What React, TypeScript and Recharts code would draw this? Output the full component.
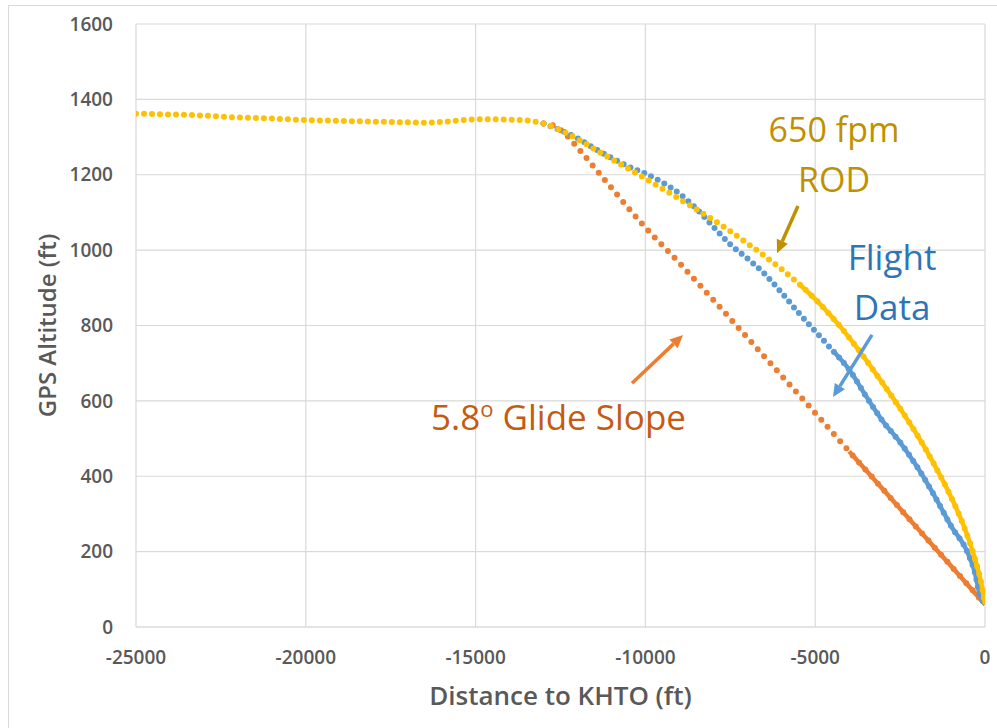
import { LineChart, Line, XAxis, YAxis, CartesianGrid, ReferenceLine, ReferenceDot, Label } from 'recharts';

// 650 fpm rate-of-descent profile
const rodDist = [-25000, -24000, -23000, -22000, -21000, -20000, -19000, -18000, -17000, -16500, -16000, -15500, -15000, -14500, -14000, -13500, -13000, -12500, -12000, -11500, -11000, -10500, -10000, -9500, -9000, -8500, -8000, -7500, -7000, -6500, -6000, -5500, -5000, -4500, -4000, -3500, -3000, -2500, -2000, -1500, -1000, -600, -300, -100, 0];
const rodAlt = [1362, 1360, 1357, 1352, 1349, 1345, 1343, 1341, 1339, 1338, 1340, 1344, 1347, 1347, 1346, 1344, 1336, 1318, 1295, 1268, 1242, 1216, 1190, 1163, 1136, 1108, 1080, 1050, 1018, 985, 950, 912, 870, 822, 768, 708, 645, 580, 510, 432, 345, 262, 182, 112, 60];

// recorded flight data
const flightDist = [-13000, -12500, -12000, -11500, -11000, -10500, -10000, -9500, -9000, -8500, -8000, -7500, -7000, -6500, -6000, -5500, -5000, -4500, -4000, -3500, -3000, -2500, -2000, -1500, -1000, -500, -300, -150, 0];
const flightAlt = [1336, 1318, 1297, 1270, 1245, 1222, 1203, 1180, 1150, 1110, 1062, 1015, 978, 938, 888, 835, 785, 735, 683, 612, 545, 490, 425, 350, 268, 195, 145, 85, 60];

// 5.8 deg glide slope
const slopeDist = [-13000, -12700, -12400, -12000, -11000, -10000, -9000, -8000, -7000, -6000, -5000, -4000, -3000, -2000, -1000, 0];
const slopeAlt = [1336, 1330, 1312, 1272, 1165, 1060, 966, 868, 768, 668, 568, 466, 365, 263, 162, 60];

const xTicks = [-25000, -20000, -15000, -10000, -5000, 0];
const yTicks = [0, 200, 400, 600, 800, 1000, 1200, 1400, 1600];

const zip = (xs: number[], ys: number[]) => xs.map((x, i) => ({ x, alt: ys[i] }));
const rodData = zip(rodDist, rodAlt);
const flightData = zip(flightDist, flightAlt);
const slopeData = zip(slopeDist, slopeAlt);

const YELLOW = '#FFC000';
const BLUE = '#5B9BD5';
const ORANGE = '#ED7D31';
const GRID = '#d9d9d9';
const TEXT = '#595959';
const FONT = '"Open Sans", "Noto Sans", sans-serif';

const tickStyle = { fill: TEXT, fontSize: 19, fontWeight: 600, fontFamily: FONT };

const Arrow = (p: any) => {
  const { x1, y1, x2, y2, color } = p;
  const ang = Math.atan2(y2 - y1, x2 - x1);
  const len = 13;
  const half = 6;
  const bx = x2 - len * Math.cos(ang);
  const by = y2 - len * Math.sin(ang);
  const nx = -Math.sin(ang) * half;
  const ny = Math.cos(ang) * half;
  return (
    <g>
      <line x1={x1} y1={y1} x2={bx} y2={by} stroke={color} strokeWidth={3.5} />
      <polygon points={`${x2},${y2} ${bx + nx},${by + ny} ${bx - nx},${by - ny}`} fill={color} />
    </g>
  );
};

const noteText = (lines: any, color: string, size: number) => (p: any) => (
  <text x={p.cx} y={p.cy} textAnchor="middle" fill={color} fontSize={size} fontFamily={FONT}>
    {lines}
  </text>
);

const dotted = (data: any[], color: string, gap: number) => (
  <Line
    data={data}
    dataKey="alt"
    type="monotone"
    stroke={color}
    strokeWidth={6}
    strokeLinecap="round"
    strokeDasharray={`0 ${gap}`}
    dot={false}
    activeDot={false}
    isAnimationActive={false}
  />
);

const solid = (data: any[], color: string) => (
  <Line
    data={data}
    dataKey="alt"
    type="monotone"
    stroke={color}
    strokeWidth={4.5}
    dot={false}
    activeDot={false}
    isAnimationActive={false}
  />
);

export default function App() {
  return (
    <div style={{ position: 'absolute', left: 0, top: 0, width: 997, height: 728, overflow: 'hidden', background: '#fff' }}>
      <div style={{ position: 'absolute', left: 8, top: 5, width: 1100, height: 800, borderLeft: `1px solid ${GRID}`, borderTop: `1px solid ${GRID}` }} />
      <div style={{ position: 'absolute', left: 0, top: 0 }}>
        <LineChart width={997} height={728} margin={{ top: 24, right: 12, bottom: 11, left: 36 }}>
          <CartesianGrid stroke={GRID} strokeWidth={1.2} />
          <XAxis
            type="number"
            dataKey="x"
            domain={[-25000, 0]}
            ticks={xTicks}
            interval={0}
            allowDataOverflow
            tickLine={false}
            axisLine={{ stroke: GRID, strokeWidth: 1.2 }}
            tick={tickStyle}
            tickMargin={18}
            height={90}
          >
            <Label value="Distance to KHTO (ft)" position="insideBottom" offset={12} fill={TEXT} fontSize={26} fontWeight={600} fontFamily={FONT} />
          </XAxis>
          <YAxis
            type="number"
            domain={[0, 1600]}
            ticks={yTicks}
            interval={0}
            tickLine={false}
            axisLine={false}
            tick={tickStyle}
            tickMargin={17}
            width={100}
          >
            <Label
              content={(p: any) => {
                const vb = p.viewBox;
                const cx = vb.x + 10;
                const cy = vb.y + vb.height / 2;
                return (
                  <text x={cx} y={cy} transform={`rotate(-90, ${cx}, ${cy})`} textAnchor="middle" dominantBaseline="central" fill={TEXT} fontSize={24} fontWeight={600} fontFamily={FONT}>
                    GPS Altitude (ft)
                  </text>
                );
              }}
            />
          </YAxis>

          {solid(slopeData.filter((d) => d.x >= -4800), ORANGE)}
          {dotted(slopeData, ORANGE, 9.5)}
          {solid(flightData.filter((d) => d.x >= -4500), BLUE)}
          {dotted(flightData, BLUE, 7.5)}
          {solid(rodData.filter((d) => d.x >= -5500), YELLOW)}
          {dotted(rodData, YELLOW, 8)}

          <ReferenceLine segment={[{ x: -5507, y: 1117 }, { x: -6125, y: 992 }]} shape={(p: any) => <Arrow {...p} color="#BF9000" />} />
          <ReferenceLine segment={[{ x: -3327, y: 775 }, { x: -4476, y: 610 }]} shape={(p: any) => <Arrow {...p} color={BLUE} />} />
          <ReferenceLine segment={[{ x: -10395, y: 647 }, { x: -8893, y: 775 }]} shape={(p: any) => <Arrow {...p} color={ORANGE} />} />

          <ReferenceDot x={-4446} y={1287} r={0} shape={noteText('650 fpm', '#BF9000', 34)} />
          <ReferenceDot x={-4446} y={1154} r={0} shape={noteText('ROD', '#BF9000', 34)} />
          <ReferenceDot x={-2738} y={947} r={0} shape={noteText('Flight', '#2E75B6', 35)} />
          <ReferenceDot x={-2738} y={815} r={0} shape={noteText('Data', '#2E75B6', 35)} />
          <ReferenceDot
            x={-12559}
            y={523}
            r={0}
            shape={noteText(
              <>
                <tspan>5.8</tspan>
                <tspan dy={-13} fontSize={22}>o</tspan>
                <tspan dy={13}> Glide Slope</tspan>
              </>,
              '#C55A11',
              35,
            )}
          />
        </LineChart>
      </div>
    </div>
  );
}
